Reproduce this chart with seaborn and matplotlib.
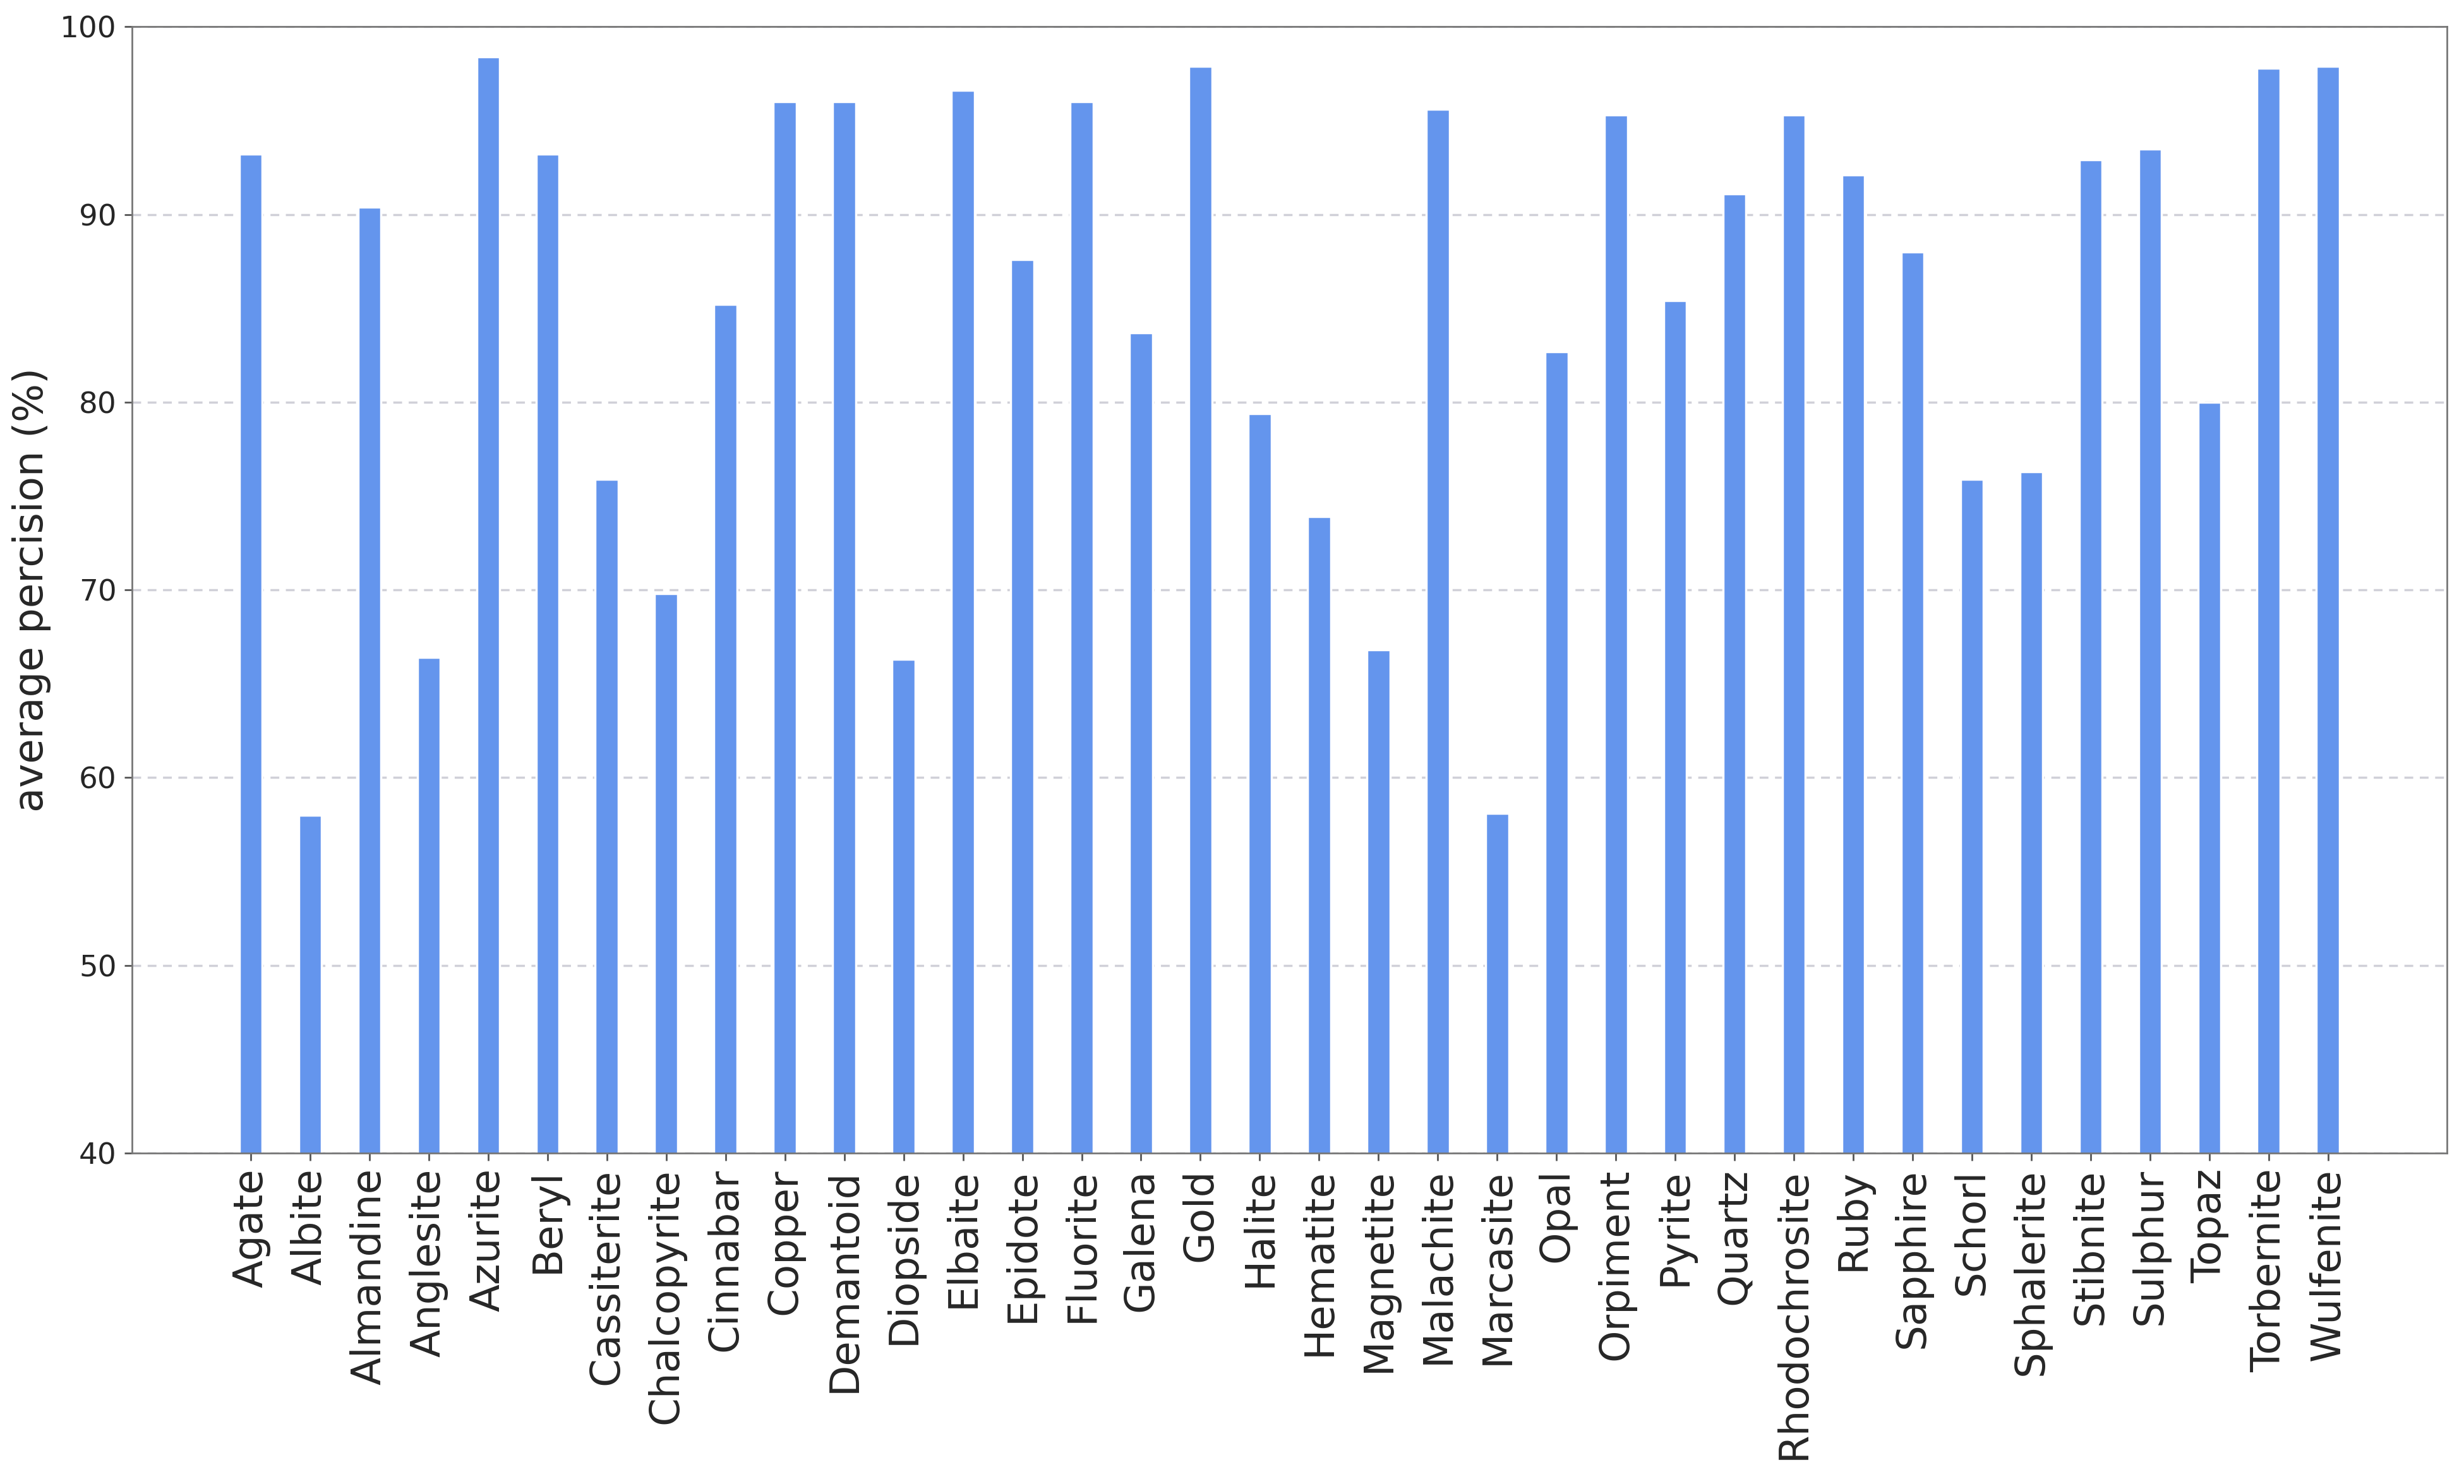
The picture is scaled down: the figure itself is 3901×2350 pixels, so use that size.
import matplotlib
matplotlib.use("Agg")
import matplotlib.pyplot as plt
import seaborn as sns
import pandas as pd

# mineral classes and their average precision (%)
minerals = ["Agate", "Albite", "Almandine", "Anglesite", "Azurite", "Beryl",
            "Cassiterite", "Chalcopyrite", "Cinnabar", "Copper", "Demantoid",
            "Diopside", "Elbaite", "Epidote", "Fluorite", "Galena", "Gold",
            "Halite", "Hematite", "Magnetite", "Malachite", "Marcasite", "Opal",
            "Orpiment", "Pyrite", "Quartz", "Rhodochrosite", "Ruby", "Sapphire",
            "Schorl", "Sphalerite", "Stibnite", "Sulphur", "Topaz", "Torbernite",
            "Wulfenite"]
avg_precision = [93.2, 58.0, 90.4, 66.4, 98.4, 93.2,
                 75.9, 69.8, 85.2, 96.0, 96.0,
                 66.3, 96.6, 87.6, 96.0, 83.7, 97.9,
                 79.4, 73.9, 66.8, 95.6, 58.1, 82.7,
                 95.3, 85.4, 91.1, 95.3, 92.1, 88.0,
                 75.9, 76.3, 92.9, 93.5, 80.0, 97.8,
                 97.9]

df = pd.DataFrame({"mineral": minerals, "ap": avg_precision})

sns.set_style("ticks")
plt.rcParams['font.family'] = ['DejaVu Sans']

fig = plt.figure(figsize=(15.604, 9.4), dpi=250)
ax = fig.add_axes([0.0536, 0.223, 0.9394, 0.759])

sns.barplot(data=df, x="mineral", y="ap", color="cornflowerblue",
            saturation=1, width=0.39, ax=ax)

ax.set_ylim(40, 100)
ax.set_xlim(-2, len(minerals) + 1)
ax.set_xlabel("")
ax.set_ylabel("average percision (%)", fontsize=18.5)
ax.yaxis.grid(True, linestyle=(0, (4, 3)), color="#d0d0d8", linewidth=1.0)
ax.set_axisbelow(True)
ax.tick_params(axis="x", labelsize=18.5, rotation=90, color="#555555")
ax.tick_params(axis="y", labelsize=13.5, color="#555555")
for s in ax.spines.values():
    s.set_visible(True)
    s.set_color("#777777")

fig.savefig("out.png", dpi=250)
